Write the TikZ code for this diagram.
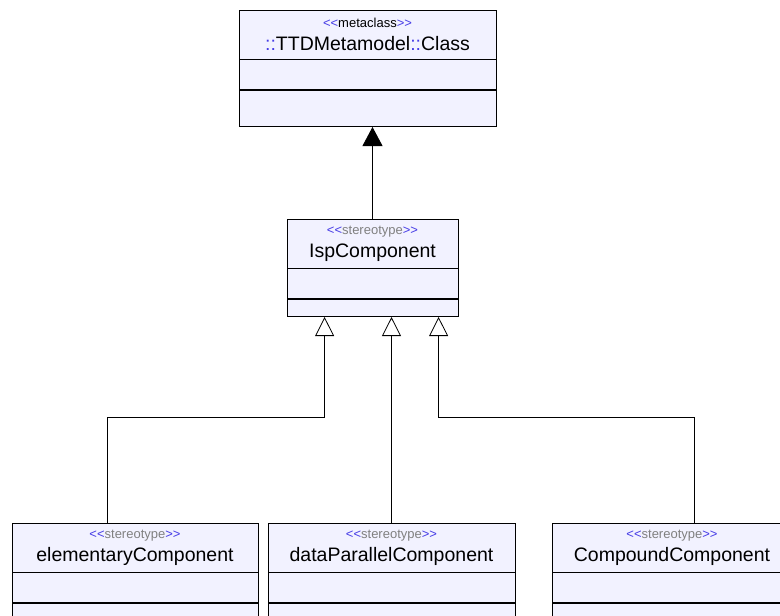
\documentclass[tikz,border=0pt]{standalone}
\usepackage{fontspec}
\setmainfont{Liberation Sans}
\usetikzlibrary{arrows.meta}
\definecolor{boxfill}{RGB}{242,242,255}
\definecolor{stblue}{RGB}{70,60,230}
\definecolor{stgray}{RGB}{128,128,128}
\newcommand{\stereo}[2]{{\fontsize{13}{15}\selectfont\color{stblue}{<}{<}\color{#1}#2\color{stblue}{>}{>}}}
\newcommand{\nsep}{{\color{stblue}::}}
\begin{document}
\begin{tikzpicture}[x=1pt,y=-1pt,
    namebox/.style={draw, fill=boxfill, line width=0.8pt, inner sep=0pt,
      minimum height=49pt, align=center, font=\fontsize{19.5}{23}\selectfont},
    compbox/.style={draw, fill=boxfill, line width=0.8pt, inner sep=0pt, anchor=north},
    gen/.style={-{Triangle[open,length=19pt,width=19pt,fill=white]}, line width=0.8pt},
    inh/.style={-{Triangle[length=19pt,width=20pt]}, line width=0.8pt}]
  \clip (0,0) rectangle (780,616);
  % metaclass
  \node[namebox, minimum width=257pt] (cls) at (367.5,34.5)
    {\stereo{black}{metaclass}\\\nsep TTDMetamodel\nsep Class};
  \node[compbox, minimum width=257pt, minimum height=30pt] (cls-attr) at (cls.south) {};
  \node[compbox, minimum width=257pt, minimum height=36pt] (cls-ops) at (cls-attr.south) {};
  % stereotype IspComponent
  \node[namebox, minimum width=171pt] (isp) at (372.5,243.5)
    {\stereo{stgray}{stereotype}\\IspComponent};
  \node[compbox, minimum width=171pt, minimum height=30pt] (isp-attr) at (isp.south) {};
  \node[compbox, minimum width=171pt, minimum height=17pt] (isp-ops) at (isp-attr.south) {};
  % the three sub stereotypes
  \node[namebox, minimum width=246pt] (elem) at (135,547.5)
    {\stereo{stgray}{stereotype}\\elementaryComponent};
  \node[compbox, minimum width=246pt, minimum height=30pt] (elem-attr) at (elem.south) {};
  \node[compbox, minimum width=246pt, minimum height=30pt] (elem-ops) at (elem-attr.south) {};
  \node[namebox, minimum width=247pt] (dp) at (391.5,547.5)
    {\stereo{stgray}{stereotype}\\dataParallelComponent};
  \node[compbox, minimum width=247pt, minimum height=30pt] (dp-attr) at (dp.south) {};
  \node[compbox, minimum width=247pt, minimum height=30pt] (dp-ops) at (dp-attr.south) {};
  \node[namebox, minimum width=240pt] (cmp) at (672,547.5)
    {\stereo{stgray}{stereotype}\\CompoundComponent};
  \node[compbox, minimum width=240pt, minimum height=30pt] (cmp-attr) at (cmp.south) {};
  \node[compbox, minimum width=240pt, minimum height=30pt] (cmp-ops) at (cmp-attr.south) {};
  % connectors
  \draw[inh] (isp.north) -- (isp.north |- cls-ops.south);
  \draw[gen] ([xshift=-28pt]elem.north) -- ++(0,-105) -| ([xshift=38pt]isp-ops.south west);
  \draw[gen] (dp.north) -- (dp.north |- isp-ops.south);
  \draw[gen] ([xshift=22pt]cmp.north) -- ++(0,-105) -| ([xshift=152pt]isp-ops.south west);
\end{tikzpicture}
\end{document}
